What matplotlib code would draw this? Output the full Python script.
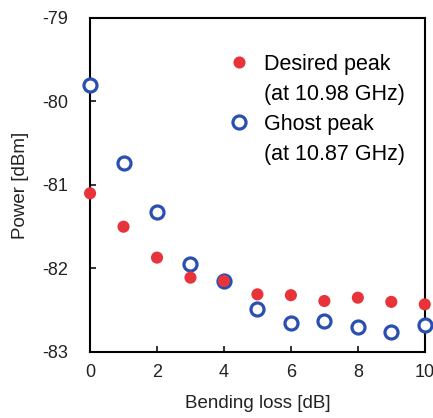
import numpy as np
import matplotlib.pyplot as plt
from matplotlib.lines import Line2D

plt.rcParams['font.family'] = ['Liberation Sans', 'DejaVu Sans']
plt.rcParams['axes.unicode_minus'] = False

# data
bending_loss = [0, 1, 2, 3, 4, 5, 6, 7, 8, 9, 10]
desired_peak = [-81.10, -81.50, -81.87, -82.11, -82.15, -82.31, -82.32, -82.39, -82.35, -82.40, -82.43]
ghost_peak = [-79.80, -80.74, -81.32, -81.95, -82.15, -82.48, -82.65, -82.63, -82.70, -82.76, -82.68]

red = '#e8333b'
blue = '#2a4fb0'

fig = plt.figure(figsize=(4.33, 4.18), dpi=100)
ax = fig.add_axes([0.208, 0.158, 0.773, 0.799])

ax.scatter(bending_loss, ghost_peak, s=88, facecolors='white',
           edgecolors=blue, linewidths=2.3, clip_on=False, zorder=3)
ax.scatter(bending_loss, desired_peak, s=76, color=red,
           edgecolors='none', clip_on=False, zorder=4)

ax.set_xlim(0, 10)
ax.set_ylim(-83, -79)
ax.set_xticks([0, 2, 4, 6, 8, 10])
ax.set_yticks([-83, -82, -81, -80, -79])
ax.tick_params(direction='in', length=4, width=1.3, labelsize=13, colors='#222222')
ax.tick_params(axis='y', pad=16)
ax.tick_params(axis='x', pad=9)
for sp in ax.spines.values():
    sp.set_linewidth(1.5)

ax.set_xlabel('Bending loss [dB]', fontsize=13.5, color='#222222', labelpad=10)
ax.set_ylabel('Power [dBm]', fontsize=13.5, color='#222222', labelpad=9.5)

# legend: marker next to first line of each two-line label
handles = [Line2D([], [], ls='none', marker='o', ms=8.7, mfc=red, mec='none'),
           Line2D([], [], ls='none'),
           Line2D([], [], ls='none', marker='o', ms=9.4, mfc='white', mec=blue, mew=2.3),
           Line2D([], [], ls='none')]
labels = ['Desired peak', '(at 10.98 GHz)', 'Ghost peak', '(at 10.87 GHz)']
ax.legend(handles, labels, loc='upper left', bbox_to_anchor=(0.414, 0.893),
          frameon=False, fontsize=15.5, handlelength=1.0, handletextpad=0.65,
          labelspacing=0.42, borderpad=0, borderaxespad=0)

fig.savefig('out.png', dpi=100)
